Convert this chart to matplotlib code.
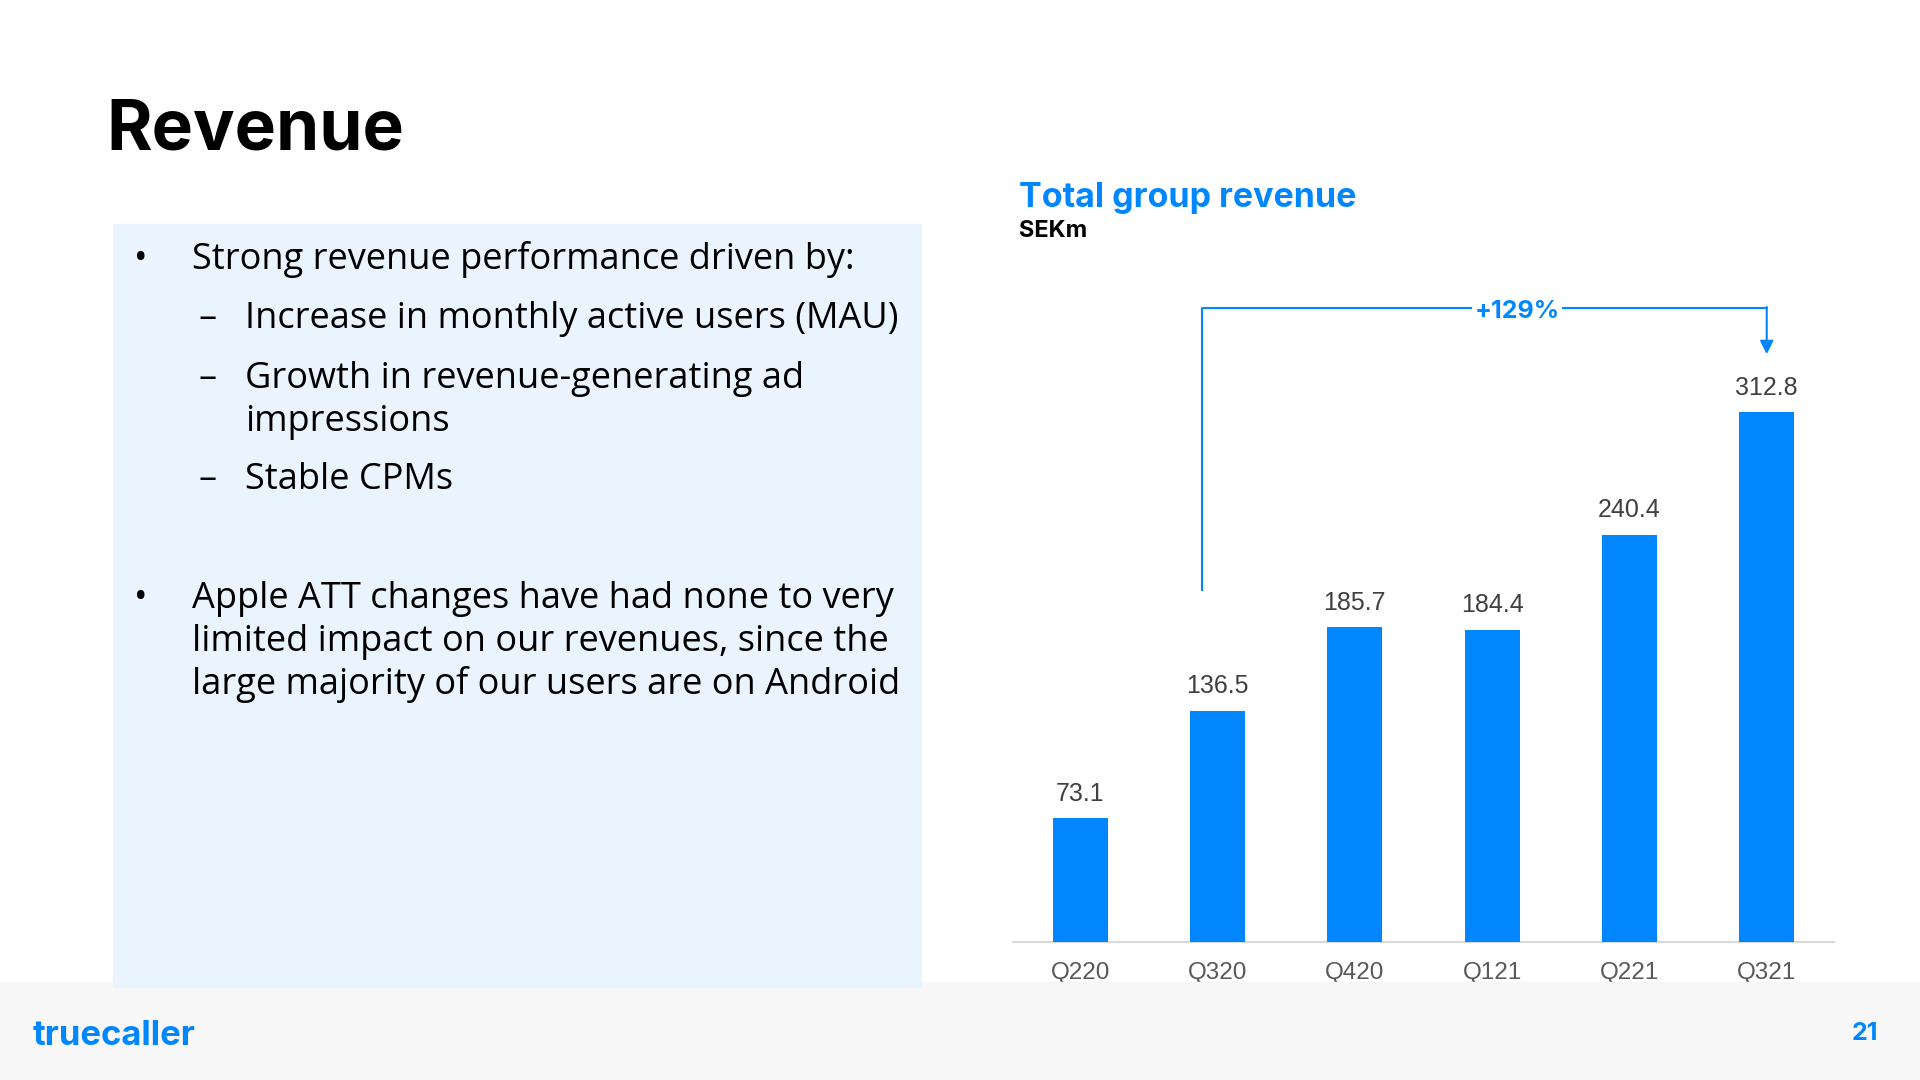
import matplotlib
matplotlib.use("Agg")
import matplotlib.pyplot as plt
from matplotlib.patches import Rectangle

# data
quarters = ["Q220", "Q320", "Q420", "Q121", "Q221", "Q321"]
revenue = [73.1, 136.5, 185.7, 184.4, 240.4, 312.8]
growth_label = "+129%"

bullets = [
    ("•", "Strong revenue performance driven by:", 0),
    ("–", "Increase in monthly active users (MAU)", 1),
    ("–", "Growth in revenue-generating ad\nimpressions", 1),
    ("–", "Stable CPMs", 1),
    ("•", "Apple ATT changes have had none to very\nlimited impact on our revenues, since the\nlarge majority of our users are on Android", 0),
]

BLUE = "#0087FF"
W, H = 1920, 1080


def px(x, y):
    # pixel (from top-left) -> figure fraction
    return x / W, 1 - y / H


fig = plt.figure(figsize=(19.2, 10.8), dpi=100)
fig.patch.set_facecolor("white")

# footer and left panel backgrounds
fig.patches.append(Rectangle((0, 0), 1, 98 / H,
                             transform=fig.transFigure, color="#F7F7F7", zorder=1))
fig.patches.append(Rectangle(px(113, 987), 808 / W, 763 / H,
                             transform=fig.transFigure, color="#EAF4FE", zorder=2))

# slide title
fig.text(*px(106, 131), "Revenue", fontsize=50, fontweight="bold",
         family="Inter", va="center", ha="left", color="black")

# bullet text (y = baseline of first line, in pixels)
y_positions = [269, 328, 388, 489, 608]
line_step = 43
for (mark, txt, level), y in zip(bullets, y_positions):
    mx = 134 if level == 0 else 199
    tx = 192 if level == 0 else 245
    fig.text(*px(mx, y), mark, fontsize=26, family="Open Sans",
             va="baseline", ha="left", color="black", zorder=3)
    for k, line in enumerate(txt.split("\n")):
        fig.text(*px(tx, y + k * line_step), line, fontsize=26, family="Open Sans",
                 va="baseline", ha="left", color="black", zorder=3)

# chart titles
fig.text(*px(1019, 198), "Total group revenue", fontsize=24.5, fontweight="bold",
         family="Inter", color=BLUE, va="center", ha="left")
fig.text(*px(1019, 231), "SEKm", fontsize=17, fontweight="bold",
         family="Inter", color="black", va="center", ha="left")

# bar chart
ax_l, ax_r, ax_b = 1013, 1834, 942
ymax = 400
ax_top = ax_b - ymax * 1.694
ax = fig.add_axes([ax_l / W, 1 - ax_b / H, (ax_r - ax_l) / W, (ax_b - ax_top) / H])
ax.set_facecolor("none")
x = list(range(len(quarters)))
ax.bar(x, revenue, width=0.4, color=BLUE, zorder=3)
ax.set_xlim(-0.49, 5.49)
ax.set_ylim(0, ymax)
for s in ["top", "right", "left"]:
    ax.spines[s].set_visible(False)
ax.spines["bottom"].set_color("#D9D9D9")
ax.spines["bottom"].set_linewidth(1.5)
ax.set_yticks([])
ax.set_xticks(x)
ax.set_xticklabels(quarters, fontsize=17.5, family="Liberation Sans", color="#595959")
ax.tick_params(axis="x", length=0, pad=14.5)

for xi, v in zip(x, revenue):
    ax.annotate(f"{v:.1f}", (xi, v), xytext=(0, 9), textcoords="offset points",
                ha="center", va="bottom", fontsize=18, family="Liberation Sans",
                color="#404040")

# growth bracket
bx0, bx1 = 0.89, 5
by = 374
ax.plot([bx0, bx0, bx1], [208, by, by], color=BLUE, lw=1.5, clip_on=False, zorder=4)
ax.annotate("", xy=(bx1, 347), xytext=(bx1, by + 0.8),
            arrowprops=dict(arrowstyle="-|>", color=BLUE, lw=1.5,
                            mutation_scale=20, shrinkA=0, shrinkB=0),
            annotation_clip=False)
ax.annotate(growth_label, (3.18, by), xytext=(0, -2), textcoords="offset points",
            ha="center", va="center", fontsize=18, fontweight="bold",
            family="Inter", color=BLUE, zorder=5, annotation_clip=False,
            bbox=dict(facecolor="white", edgecolor="none", pad=2))

# footer
fig.text(*px(33, 1036), "truecaller", fontsize=25, fontweight="bold",
         family="Inter", color=BLUE, va="center", ha="left", zorder=3)
fig.text(*px(1878, 1033), "21", fontsize=18, fontweight="bold",
         family="Inter", color=BLUE, va="center", ha="right", zorder=3)

fig.savefig("out.png", dpi=100)
